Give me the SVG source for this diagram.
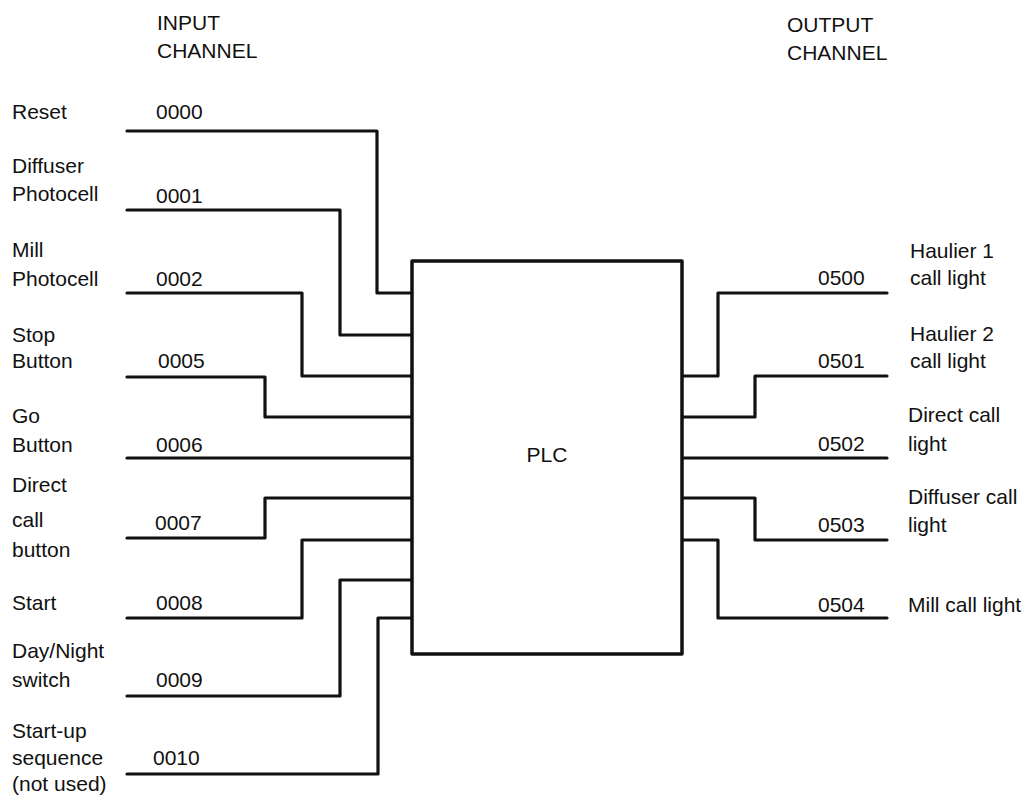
<svg xmlns="http://www.w3.org/2000/svg" width="1033" height="798" viewBox="0 0 1033 798">
<style>
text{font-family:"Liberation Sans",Arial,sans-serif;font-size:21px;fill:#111}
.w{fill:none;stroke:#111;stroke-width:3.2;stroke-linejoin:round;stroke-linecap:round}
.box{fill:#fff;stroke:#111;stroke-width:3.5;stroke-linejoin:round}
</style>
<rect width="1033" height="798" fill="#fff"/>
<g id="headers">
<text x="157" y="30">INPUT</text>
<text x="157" y="58">CHANNEL</text>
<text x="787" y="32">OUTPUT</text>
<text x="787" y="60">CHANNEL</text>
</g>
<g id="connectors">
<path class="w" d="M127,131 H377 V293 H412"/>
<path class="w" d="M127,210 H340 V335 H412"/>
<path class="w" d="M127,293 H302 V376 H412"/>
<path class="w" d="M127,377 H265 V417 H412"/>
<path class="w" d="M127,458 H412"/>
<path class="w" d="M127,538 H265 V498 H412"/>
<path class="w" d="M127,618 H302 V540 H412"/>
<path class="w" d="M127,696 H340 V580 H412"/>
<path class="w" d="M127,774 H378 V618 H412"/>
<path class="w" d="M682,376 H718 V293 H887"/>
<path class="w" d="M682,417 H755 V376 H887"/>
<path class="w" d="M682,458 H887"/>
<path class="w" d="M682,498 H755 V540 H887"/>
<path class="w" d="M682,540 H718 V618 H887"/>
</g>
<g id="plc">
<rect class="box" x="412" y="261" width="270" height="393"/>
<text x="547" y="462" text-anchor="middle">PLC</text>
</g>
<g id="in-0000"><text x="12" y="119">Reset</text><text x="156" y="119">0000</text></g>
<g id="in-0001"><text x="12" y="173">Diffuser</text><text x="12" y="201">Photocell</text><text x="156" y="203">0001</text></g>
<g id="in-0002"><text x="12" y="257">Mill</text><text x="12" y="286">Photocell</text><text x="156" y="286">0002</text></g>
<g id="in-0005"><text x="12" y="342">Stop</text><text x="12" y="368">Button</text><text x="158" y="368">0005</text></g>
<g id="in-0006"><text x="12" y="423">Go</text><text x="12" y="452">Button</text><text x="156" y="452">0006</text></g>
<g id="in-0007"><text x="12" y="492">Direct</text><text x="12" y="527">call</text><text x="12" y="557">button</text><text x="155" y="530">0007</text></g>
<g id="in-0008"><text x="12" y="610">Start</text><text x="156" y="610">0008</text></g>
<g id="in-0009"><text x="12" y="658">Day/Night</text><text x="12" y="687">switch</text><text x="156" y="687">0009</text></g>
<g id="in-0010"><text x="12" y="738">Start-up</text><text x="12" y="765">sequence</text><text x="12" y="791">(not used)</text><text x="153" y="765">0010</text></g>
<g id="out-0500"><text x="818" y="285">0500</text><text x="910" y="258">Haulier 1</text><text x="910" y="285">call light</text></g>
<g id="out-0501"><text x="818" y="368">0501</text><text x="910" y="341">Haulier 2</text><text x="910" y="368">call light</text></g>
<g id="out-0502"><text x="818" y="451">0502</text><text x="908" y="422">Direct call</text><text x="908" y="451">light</text></g>
<g id="out-0503"><text x="818" y="532">0503</text><text x="908" y="504">Diffuser call</text><text x="908" y="532">light</text></g>
<g id="out-0504"><text x="818" y="612">0504</text><text x="908" y="612">Mill call light</text></g>
</svg>
